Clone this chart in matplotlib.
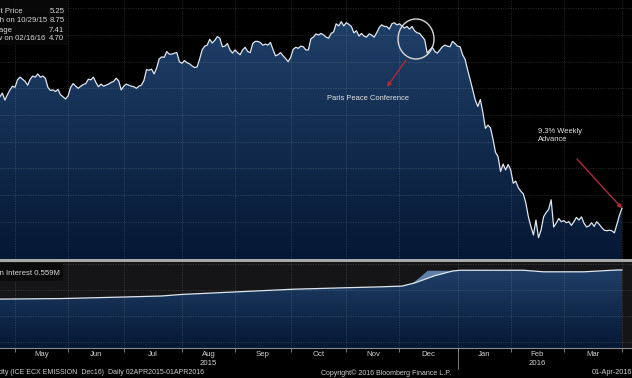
import numpy as np
import pandas as pd
import matplotlib
matplotlib.use("Agg")
import matplotlib.pyplot as plt
from matplotlib.colors import LinearSegmentedColormap
from matplotlib.patches import Ellipse, Rectangle

plt.rcParams['font.family'] = ['Liberation Sans', 'DejaVu Sans']

# daily settle, ICE ECX EUA Dec16, one value per business day from 23 Apr 2015
start_date = "2015-04-23"
price = [
    7.34, 7.41, 7.28, 7.38, 7.47, 7.54,
    7.52, 7.66, 7.71, 7.67, 7.63, 7.56, 7.67, 7.73, 7.71, 7.77,
    7.71, 7.73, 7.69, 7.52, 7.46, 7.47, 7.44, 7.48, 7.38, 7.34,
    7.30, 7.36, 7.52, 7.59, 7.54, 7.50, 7.54, 7.57, 7.59, 7.67,
    7.66, 7.71, 7.61, 7.53, 7.58, 7.54, 7.56, 7.58, 7.61, 7.63,
    7.69, 7.64, 7.47, 7.54, 7.58, 7.56, 7.54, 7.53, 7.50, 7.54,
    7.56, 7.65, 7.85, 7.84, 7.86, 7.77, 7.88, 8.05, 8.09, 8.08,
    8.19, 8.14, 8.14, 8.16, 8.17, 8.00, 7.97, 8.02, 7.98, 7.96,
    7.92, 7.89, 7.90, 8.05, 8.22, 8.29, 8.31, 8.42, 8.35, 8.40,
    8.47, 8.44, 8.28, 8.29, 8.34, 8.22, 8.16, 8.22, 8.17, 8.13,
    8.22, 8.27, 8.19, 8.17, 8.34, 8.38, 8.38, 8.36, 8.31, 8.33,
    8.31, 8.36, 8.23, 8.11, 8.13, 8.17, 8.11, 8.06, 8.00, 8.08,
    8.23, 8.27, 8.25, 8.29, 8.28, 8.22, 8.22, 8.43, 8.46, 8.52,
    8.50, 8.53, 8.50, 8.46, 8.44, 8.53, 8.56, 8.71, 8.67, 8.75,
    8.67, 8.73, 8.70, 8.66, 8.54, 8.58, 8.48, 8.53, 8.48, 8.46,
    8.52, 8.50, 8.46, 8.54, 8.64, 8.69, 8.66, 8.66, 8.61, 8.71,
    8.73, 8.69, 8.71, 8.67, 8.63, 8.66, 8.61, 8.66, 8.58, 8.54,
    8.53, 8.47, 8.41, 8.16, 8.22, 8.27, 8.19, 8.16, 8.22, 8.28,
    8.31, 8.29, 8.28, 8.38, 8.34, 8.29, 8.28, 8.13, 8.04, 7.84,
    7.66, 7.47, 7.28, 7.16, 7.29, 7.05, 6.75, 6.81, 6.76, 6.55,
    6.30, 6.22, 5.94, 6.08, 5.97, 6.07, 5.97, 5.72, 5.76, 5.64,
    5.57, 5.52, 5.35, 5.09, 4.91, 4.75, 5.03, 4.70, 4.84, 5.09,
    5.17, 5.23, 5.41, 4.90, 4.97, 5.06, 5.00, 5.02, 4.98, 5.00,
    4.93, 5.00, 5.08, 5.03, 5.09, 4.97, 4.90, 4.92, 4.98, 4.91,
    5.00, 4.95, 4.89, 4.84, 4.83, 4.84, 4.83, 4.79, 4.95, 5.12,
    5.25,
]

# open interest (millions)
oi_dates = ["2015-04-23", "2015-05-27", "2015-07-01", "2015-07-22", "2015-08-03",
            "2015-09-02", "2015-10-02", "2015-11-03", "2015-11-19", "2015-12-02",
            "2015-12-09", "2015-12-21", "2015-12-30", "2016-01-04", "2016-02-08",
            "2016-02-18", "2016-03-11", "2016-03-30", "2016-04-01"]
oi = [0.465, 0.467, 0.473, 0.477, 0.483, 0.493, 0.503, 0.509, 0.512, 0.515,
      0.527, 0.555, 0.573, 0.576, 0.576, 0.570, 0.570, 0.577, 0.577]
oi_band_dates = ["2015-12-02", "2015-12-08", "2015-12-11", "2015-12-16", "2016-01-04"]
oi_band = [0.515, 0.528, 0.551, 0.576, 0.576]

months = ["May", "Jun", "Jul", "Aug", "Sep", "Oct", "Nov", "Dec", "Jan", "Feb", "Mar"]

dates = pd.bdate_range(start_date, periods=len(price))
x = np.arange(len(price))


def pos(d):
    return int(np.searchsorted(dates, pd.Timestamp(d)))


oi_x = [pos(d) for d in oi_dates]
band_x = [pos(d) for d in oi_band_dates]
month_starts = [pos(d) for d in pd.date_range("2015-05-01", "2016-04-01", freq="MS")]

W, H = 632, 378
BG = "#151517"
GRID = dict(color="white", alpha=0.16, lw=0.6, ls=(0, (1.5, 1.5)))
TXT = "#cfcfcf"
fill_cmap = LinearSegmentedColormap.from_list("bb", ["#051834", "#22436d"])
XLIM = (0.07, 249.97)


def fy(py):
    return 1 - py / H


def gradient_fill(ax, xs, ys, ylim):
    poly = ax.fill_between(xs, ys, ylim[0], facecolor="none", lw=0)
    grad = np.linspace(0, 1, 256).reshape(-1, 1)
    img = ax.imshow(grad, cmap=fill_cmap, aspect="auto", origin="lower",
                    extent=[XLIM[0], XLIM[1], ylim[0], ylim[1]], zorder=1)
    img.set_clip_path(poly.get_paths()[0], transform=ax.transData)


fig = plt.figure(figsize=(W / 100, H / 100), dpi=100, facecolor="black")

# price panel
ax1 = fig.add_axes([0, fy(259), 1, 259 / H])
ax1.set_facecolor(BG)
y1 = (4.30, 9.156)
gradient_fill(ax1, x, price, y1)
ax1.plot(x, price, color="#dfe6ee", lw=0.9, zorder=3)
for m in month_starts:
    ax1.axvline(m, zorder=2.5, **GRID)
for v in np.arange(5.0, 9.01, 0.5):
    ax1.axhline(v, zorder=2.5, **GRID)
ax1.set_xlim(XLIM)
ax1.set_ylim(y1)
ax1.axis("off")

# annotations
ax1.add_patch(Ellipse((416 / W, 1 - 39 / 259), 36 / W, 40 / 259, transform=ax1.transAxes,
                      fc="none", ec="#d8d8d8", lw=1, zorder=4))
arrow = dict(arrowstyle="-|>", color="#b02a3a", lw=1, mutation_scale=6, shrinkA=0, shrinkB=0)
ax1.annotate("", xy=(387 / W, 1 - 87 / 259), xytext=(406 / W, 1 - 60 / 259),
             xycoords="axes fraction", arrowprops=arrow, zorder=4)
ax1.text(327 / W, 1 - 99 / 259, "Paris Peace Conference", transform=ax1.transAxes,
         color="#e6e6e6", fontsize=5.4, va="center", ha="left")
ax1.annotate("", xy=(x[-1], price[-1]), xycoords="data",
             xytext=(577 / W, 1 - 159 / 259), textcoords="axes fraction", arrowprops=arrow, zorder=4)
ax1.text(538 / W, 1 - 135.5 / 259, "9.3% Weekly\nAdvance", transform=ax1.transAxes,
         color="#e6e6e6", fontsize=5.4, va="center", ha="left", linespacing=1.25)

# open interest panel
ax2 = fig.add_axes([0, fy(348), 1, 86 / H])
ax2.set_facecolor(BG)
y2 = (0.2769, 0.6077)
ax2.fill_between(band_x, oi_band, y2[0], color="#5f7fa8", lw=0, zorder=0.8)
gradient_fill(ax2, oi_x, oi, y2)
ax2.plot(oi_x, oi, color="#dfe6ee", lw=0.9, zorder=3)
for m in month_starts:
    ax2.axvline(m, zorder=2.5, **GRID)
for v in [0.3, 0.4, 0.5, 0.6]:
    ax2.axhline(v, zorder=2.5, **GRID)
ax2.set_xlim(XLIM)
ax2.set_ylim(y2)
for s in ["top", "left", "right"]:
    ax2.spines[s].set_visible(False)
ax2.spines["bottom"].set_color("#8a8a8a")
ax2.spines["bottom"].set_linewidth(0.8)
ax2.set_yticks([])
ax2.set_xticks(month_starts)
ax2.set_xticklabels([])
ax2.tick_params(axis="x", direction="out", length=3, width=0.6, color="#8a8a8a")
mids = [(a + b) / 2 for a, b in zip(month_starts[:-1], month_starts[1:])]
ax2.set_xticks(mids, minor=True)
ax2.set_xticklabels(months, minor=True, fontsize=5.6, color=TXT)
ax2.tick_params(axis="x", which="minor", length=0, pad=2.5)
for lab, m in [("2015", mids[3]), ("2016", mids[9])]:
    ax2.text(m, -0.18, lab, transform=ax2.get_xaxis_transform(), ha="center", va="center",
             fontsize=5.6, color=TXT)
jan = pos("2016-01-01")
ax2.plot([jan, jan], [0, -0.24], transform=ax2.get_xaxis_transform(), clip_on=False,
         color="#8a8a8a", lw=0.6)

# separator between panels
fig.add_artist(Rectangle((0, fy(262)), 1, 3 / H, transform=fig.transFigure,
                         fc="#a8a8a8", ec="none", zorder=5))

# legend boxes
fig.add_artist(Rectangle((0, fy(45)), 68 / W, 45 / H, transform=fig.transFigure,
                         fc="#0a0a0a", ec="none", alpha=0.9, zorder=5))
legend = [("Last Price", 22.7, "5.25", 11.7), ("High on 10/29/15", 46.7, "8.75", 20.7),
          ("Average", 13.3, "7.41", 30.0), ("Low on 02/16/16", 45.0, "4.70", 38.3)]
for lab, xe, val, py in legend:
    fig.text(xe / W, fy(py), lab, ha="right", va="center", fontsize=5.6, color="#d8d8d8", zorder=6)
    fig.text(64.3 / W, fy(py), val, ha="right", va="center", fontsize=5.6, color="#d8d8d8", zorder=6)

fig.add_artist(Rectangle((0, fy(281)), 63 / W, 18 / H, transform=fig.transFigure,
                         fc="#0a0a0a", ec="none", alpha=0.9, zorder=5))
fig.text(60 / W, fy(273.3), "Open Interest 0.559M", ha="right", va="center",
         fontsize=5.6, color="#d8d8d8", zorder=6)

# footer
fig.text(-1 / W, fy(373), "dty (ICE ECX EMISSION  Dec16)  Daily 02APR2015-01APR2016",
         ha="left", va="center", fontsize=5.0, color=TXT)
fig.text(386 / W, fy(373), "Copyright\u00a9 2016 Bloomberg Finance L.P.",
         ha="center", va="center", fontsize=5.0, color=TXT)
fig.text(632 / W, fy(373), "01-Apr-2016", ha="right", va="center", fontsize=5.2, color=TXT)

fig.savefig("out.png", dpi=100, facecolor="black")
